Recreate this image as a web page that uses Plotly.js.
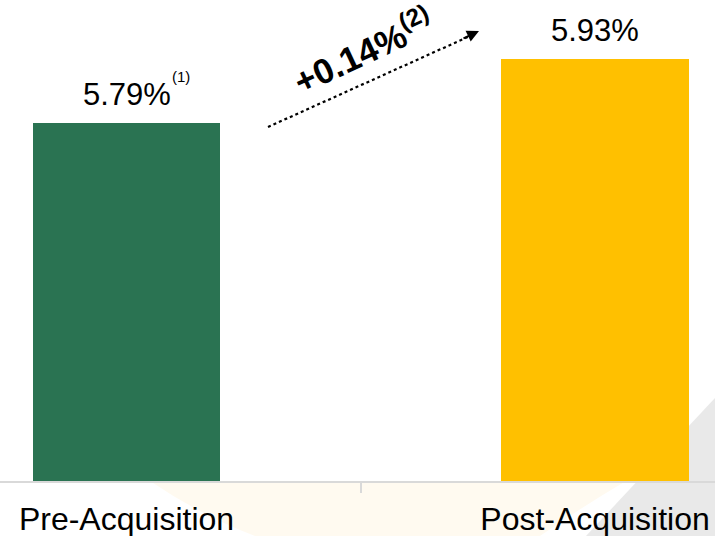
<!DOCTYPE html>
<html>
<head>
<meta charset="utf-8">
<script src="https://cdn.plot.ly/plotly-3.0.1.min.js"></script>
<style>html,body{margin:0;padding:0;background:#fff;}#chart{width:715px;height:536px;}</style>
</head>
<body>
<div id="chart"></div>
<script>
const categories = ["Pre-Acquisition", "Post-Acquisition"];
const yieldValues = [5.79, 5.93];
const valueLabels = ["5.79%", "5.93%"];
const footnotes = ["(1)", ""];
const changeLabel = "+0.14%";
const changeFootnote = "(2)";
const barColors = ["#2A7352", "#FFC000"];

const W = 715, H = 536, plotBottom = 481;
const px = v => v / W;
const py = v => 1 - v / plotBottom;

const FONT = "Liberation Sans, Arial, sans-serif";

const trace = {
  type: "bar",
  x: categories,
  y: yieldValues,
  width: 0.4,
  marker: {color: barColors, line: {width: 0}},
  hoverinfo: "skip"
};

const annotations = [];
categories.forEach((c, i) => {
  annotations.push({
    x: c, y: yieldValues[i], xref: "x", yref: "y",
    text: valueLabels[i], showarrow: false,
    xanchor: "center", yanchor: "bottom", yshift: 9,
    font: {family: FONT, size: 31, color: "#000"}
  });
  if (footnotes[i]) {
    annotations.push({
      x: c, y: yieldValues[i], xref: "x", yref: "y",
      text: footnotes[i], showarrow: false,
      xanchor: "center", yanchor: "middle", xshift: 54, yshift: 46,
      font: {family: FONT, size: 15, color: "#000"}
    });
  }
});

annotations.push({
  x: px(363), y: py(50), xref: "paper", yref: "paper",
  text: "<b>" + changeLabel + "<sup>" + changeFootnote + "</sup></b>",
  showarrow: false, textangle: -25,
  xanchor: "center", yanchor: "middle",
  font: {family: FONT, size: 35, color: "#000"}
});
// arrowhead
annotations.push({
  x: px(479), y: py(31), xref: "paper", yref: "paper",
  ax: px(462), ay: py(39), axref: "paper", ayref: "paper",
  text: "", showarrow: true, arrowhead: 2, arrowsize: 1.2, arrowwidth: 2, arrowcolor: "#000"
});

const shapes = [
  {type: "path", xref: "paper", yref: "paper", layer: "below",
   path: `M ${px(715)} ${py(398)} L ${px(586)} ${py(536)} L ${px(715)} ${py(536)} Z`,
   fillcolor: "#e9e9e9", line: {width: 0}},
  {type: "path", xref: "paper", yref: "paper", layer: "below",
   path: `M ${px(150)} ${py(481)} Q ${px(200)} ${py(515)} ${px(255)} ${py(536)} L ${px(540)} ${py(536)} Q ${px(585)} ${py(505)} ${px(626)} ${py(481)} Z`,
   fillcolor: "#fffaf0", line: {width: 0}},
  {type: "line", xref: "paper", yref: "paper",
   x0: px(268), y0: py(127), x1: px(470), y1: py(36),
   line: {color: "#000", width: 2.2, dash: "dot"}}
];

const layout = {
  width: W, height: H,
  margin: {l: 0, r: 0, t: 0, b: H - plotBottom, pad: 0},
  paper_bgcolor: "rgba(0,0,0,0)",
  plot_bgcolor: "rgba(0,0,0,0)",
  showlegend: false,
  bargap: 0,
  xaxis: {
    type: "category",
    range: [-0.27, 1.256],
    showline: true, linecolor: "#d9d9d9", linewidth: 1.5,
    ticks: "outside", tickson: "boundaries", ticklen: 10, tickcolor: "#d9d9d9", tickwidth: 1.5,
    showgrid: false, zeroline: false,
    tickfont: {family: FONT, size: 32, color: "#000"},
    ticklabelstandoff: 9
  },
  yaxis: {
    range: [5.0, 6.061],
    visible: false, showgrid: false, zeroline: false, fixedrange: true
  },
  annotations: annotations,
  shapes: shapes,
  font: {family: FONT}
};

Plotly.newPlot("chart", [trace], layout, {displayModeBar: false, staticPlot: true});
</script>
</body>
</html>
